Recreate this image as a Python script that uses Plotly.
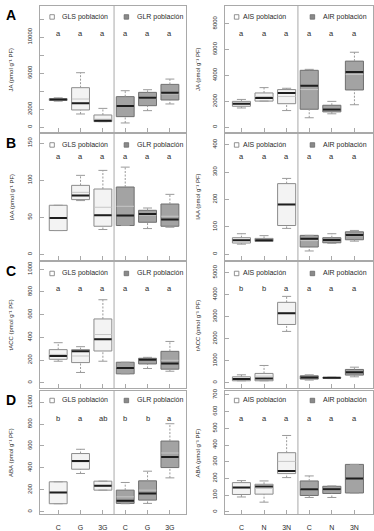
import plotly.graph_objects as go

W, H = 374, 531

POSITIONS = [1, 2, 3, 4, 5, 6]
X_LABELS_G = ["C", "G", "3G", "C", "G", "3G"]
X_LABELS_N = ["C", "N", "3N", "C", "N", "3N"]

# ---- A: JA (GLS / GLR) ----
JA_G_LOW = [2900, 1480, 630, 485, 1850, 2590]
JA_G_Q1 = [2980, 1925, 630, 1185, 2400, 3030]
JA_G_MED = [3080, 2660, 740, 2370, 3290, 3840]
JA_G_Q3 = [3180, 4395, 1370, 3400, 3875, 4760]
JA_G_HIGH = [3270, 6055, 2100, 4060, 4170, 5350]
JA_G_MEAN = [3100, 3140, 900, 2370, 3200, 3700]
JA_G_SIG = ["a", "a", "a", "a", "a", "a"]

# ---- A: JA (AIS / AIR) ----
JA_N_LOW = [1490, 2020, 1290, 735, 1040, 1740]
JA_N_Q1 = [1620, 2020, 1820, 1390, 1190, 2880]
JA_N_MED = [1820, 2250, 2650, 3210, 1365, 4270]
JA_N_Q3 = [2000, 2650, 2910, 4395, 1700, 5105]
JA_N_HIGH = [2150, 3060, 3010, 4470, 2000, 5790]
JA_N_MEAN = [1820, 2380, 2380, 2910, 1400, 4070]
JA_N_SIG = ["a", "a", "a", "a", "a", "a"]

# ---- B: IAA (GLS / GLR) ----
IAA_G_LOW = [32.2, 72.6, 33.6, 39, 34.9, 36.7]
IAA_G_Q1 = [32.2, 73.9, 38, 39, 43.4, 38]
IAA_G_MED = [49.2, 79.3, 52.8, 52.4, 54.6, 47]
IAA_G_Q3 = [66.3, 93.1, 88.2, 90.9, 59.5, 68]
IAA_G_HIGH = [66.3, 106.6, 113.3, 117.7, 62.6, 81]
IAA_G_MEAN = [49.2, 83.7, 63.6, 64.9, 53, 51.5]
IAA_G_SIG = ["a", "a", "a", "a", "a", "a"]

# ---- B: IAA (AIS / AIR) ----
IAA_N_LOW = [37, 47, 94.5, 12, 40, 48]
IAA_N_Q1 = [41, 47, 105, 26.5, 42, 53]
IAA_N_MED = [51, 51, 182, 56.7, 52, 70]
IAA_N_Q3 = [60.5, 58, 258, 69, 60.5, 82]
IAA_N_HIGH = [75, 68, 277, 69, 75, 87]
IAA_N_MEAN = [51, 53, 182, 50, 53, 68]
IAA_N_SIG = ["a", "a", "a", "a", "a", "a"]

# ---- C: tACC (GLS / GLR) ----
ACC_G_LOW = [190, 91, 190, 79, 126, 102]
ACC_G_Q1 = [207, 178, 280, 79, 166, 120]
ACC_G_MED = [236, 277, 384, 131, 204, 169]
ACC_G_Q3 = [292, 292, 562, 181, 216, 277]
ACC_G_HIGH = [353, 318, 731, 181, 224, 364]
ACC_G_MEAN = [250, 236, 425, 135, 200, 198]
ACC_G_SIG = ["a", "a", "a", "a", "a", "a"]

# ---- C: tACC (AIS / AIR) ----
ACC_N_LOW = [90, 90, 2330, 122, 190, 270]
ACC_N_Q1 = [90, 90, 2645, 167, 210, 347]
ACC_N_MED = [167, 198, 3155, 243, 225, 482]
ACC_N_Q3 = [270, 423, 3650, 315, 240, 604]
ACC_N_HIGH = [360, 784, 3920, 360, 250, 707]
ACC_N_MEAN = [180, 300, 3150, 240, 225, 480]
ACC_N_SIG = ["b", "b", "a", "a", "a", "a"]

# ---- D: ABA (GLS / GLR) ----
ABA_G_LOW = [73, 349, 197, 73, 76, 309]
ABA_G_Q1 = [73, 388, 197, 76, 106, 403]
ABA_G_MED = [176, 464, 236, 100, 167, 500]
ABA_G_Q3 = [273, 531, 279, 197, 282, 645]
ABA_G_HIGH = [273, 570, 279, 267, 370, 803]
ABA_G_MEAN = [176, 455, 236, 136, 197, 536]
ABA_G_SIG = ["b", "a", "ab", "b", "b", "a"]

# ---- D: ABA (AIS / AIR) ----
ABA_N_LOW = [89, 58, 205, 86, 86, 113]
ABA_N_Q1 = [104, 106, 229, 98, 110, 113]
ABA_N_MED = [145, 151, 245, 135, 135, 199]
ABA_N_Q3 = [175, 165, 354, 185, 153, 284]
ABA_N_HIGH = [187, 185, 457, 215, 155, 284]
ABA_N_MEAN = [145, 140, 302, 140, 130, 199]
ABA_N_SIG = ["a", "a", "a", "a", "a", "a"]

# y ticks (labelled) and tick spacing
JA_G_TICKS = [0, 2000, 6000, 10000]
JA_N_TICKS = [0, 2000, 4000, 6000, 8000]
IAA_G_TICKS = [0, 50, 100, 150]
IAA_N_TICKS = [0, 100, 200, 300, 400]
ACC_G_TICKS = [0, 200, 400, 600, 800, 1000]
ACC_N_TICKS = [0, 1000, 2000, 3000, 4000, 5000]
ABA_G_TICKS = [0, 200, 400, 600, 800, 1000]
ABA_N_TICKS = [0, 100, 200, 300, 400, 500, 600, 700]

LEG_G = ["GLS población", "GLR población"]
LEG_N = ["AIS población", "AIR población"]
PANEL_LETTERS = ["A", "B", "C", "D"]
HORMONES = ["JA", "IAA", "tACC", "ABA"]

FONT = "Liberation Sans, Arial, sans-serif"
TXT = "#2a2a2a"
FRAME = "#a9a9a9"
LIGHT_FILL, LIGHT_LINE = "#f3f3f3", "#8c8c8c"
DARK_FILL, DARK_LINE = "#a3a3a3", "#6f6f6f"
WHISK = "#9a9a9a"
MEAN_COL = "#c6c6c6"

# layout geometry (pixels)
COL_X = [(40, 186.7), (226, 373.5)]
ROW_Y = [(4, 130.7), (132, 259), (261, 387.5), (390, 514.3)]
X_RANGES = [[0.18, 6.73], [0.29, 6.8]]

def px_x(p):
    return p / W

def px_y(p):
    return 1 - p / H

panels = [
    (0, 0, JA_G_LOW, JA_G_Q1, JA_G_MED, JA_G_Q3, JA_G_HIGH, JA_G_MEAN, JA_G_SIG, [-540, 13450], JA_G_TICKS, 2000),
    (0, 1, JA_N_LOW, JA_N_Q1, JA_N_MED, JA_N_Q3, JA_N_HIGH, JA_N_MEAN, JA_N_SIG, [-380, 9360], JA_N_TICKS, 2000),
    (1, 0, IAA_G_LOW, IAA_G_Q1, IAA_G_MED, IAA_G_Q3, IAA_G_HIGH, IAA_G_MEAN, IAA_G_SIG, [-7.5, 163], IAA_G_TICKS, 50),
    (1, 1, IAA_N_LOW, IAA_N_Q1, IAA_N_MED, IAA_N_Q3, IAA_N_HIGH, IAA_N_MEAN, IAA_N_SIG, [-21, 441], IAA_N_TICKS, 100),
    (2, 0, ACC_G_LOW, ACC_G_Q1, ACC_G_MED, ACC_G_Q3, ACC_G_HIGH, ACC_G_MEAN, ACC_G_SIG, [-46, 1063], ACC_G_TICKS, 200),
    (2, 1, ACC_N_LOW, ACC_N_Q1, ACC_N_MED, ACC_N_Q3, ACC_N_HIGH, ACC_N_MEAN, ACC_N_SIG, [-240, 5480], ACC_N_TICKS, 1000),
    (3, 0, ABA_G_LOW, ABA_G_Q1, ABA_G_MED, ABA_G_Q3, ABA_G_HIGH, ABA_G_MEAN, ABA_G_SIG, [-24, 1106], ABA_G_TICKS, 200),
    (3, 1, ABA_N_LOW, ABA_N_Q1, ABA_N_MED, ABA_N_Q3, ABA_N_HIGH, ABA_N_MEAN, ABA_N_SIG, [-15, 726], ABA_N_TICKS, 100),
]

SIG_OFF = [27.7, 23, 27, 28.5]   # px below frame top
LEG_OFF = [11, 11.5, 11.5, 10]

fig = go.Figure()
annotations = []
shapes = []
layout = {}

for i, (r, c, low, q1, med, q3, high, mean, sig, yr, ticks, dtick) in enumerate(panels):
    n = i + 1
    xa = "x" if n == 1 else f"x{n}"
    ya = "y" if n == 1 else f"y{n}"
    xkey = "xaxis" if n == 1 else f"xaxis{n}"
    ykey = "yaxis" if n == 1 else f"yaxis{n}"
    x0, x1 = COL_X[c]
    ytop, ybot = ROW_Y[r]

    # whiskers (dashed)
    wx, wy = [], []
    for p, lo, a, b, hi in zip(POSITIONS, low, q1, q3, high):
        wx += [p, p, None, p, p, None]
        wy += [b, hi, None, lo, a, None]
    fig.add_trace(go.Scatter(x=wx, y=wy, mode="lines", xaxis=xa, yaxis=ya,
                             line=dict(color=WHISK, width=1, dash="2px,1.5px"),
                             hoverinfo="skip", showlegend=False))
    # caps
    cx, cy = [], []
    for p, lo, hi in zip(POSITIONS, low, high):
        cx += [p - 0.2, p + 0.2, None, p - 0.2, p + 0.2, None]
        cy += [hi, hi, None, lo, lo, None]
    fig.add_trace(go.Scatter(x=cx, y=cy, mode="lines", xaxis=xa, yaxis=ya,
                             line=dict(color=WHISK, width=1),
                             hoverinfo="skip", showlegend=False))
    # boxes
    for sl, fill, lc in [(slice(0, 3), LIGHT_FILL, LIGHT_LINE), (slice(3, 6), DARK_FILL, DARK_LINE)]:
        fig.add_trace(go.Box(x=POSITIONS[sl], q1=q1[sl], median=med[sl], q3=q3[sl],
                             lowerfence=q1[sl], upperfence=q3[sl],
                             width=0.8, whiskerwidth=0, boxpoints=False,
                             fillcolor=fill, line=dict(color=lc, width=1),
                             xaxis=xa, yaxis=ya, hoverinfo="skip", showlegend=False))
    # mean lines
    mx, my = [], []
    for p, m in zip(POSITIONS, mean):
        mx += [p - 0.39, p + 0.39, None]
        my += [m, m, None]
    fig.add_trace(go.Scatter(x=mx, y=my, mode="lines", xaxis=xa, yaxis=ya,
                             line=dict(color=MEAN_COL, width=1),
                             hoverinfo="skip", showlegend=False))
    # median lines
    dx, dy = [], []
    for p, m in zip(POSITIONS, med):
        dx += [p - 0.39, p + 0.39, None]
        dy += [m, m, None]
    fig.add_trace(go.Scatter(x=dx, y=dy, mode="lines", xaxis=xa, yaxis=ya,
                             line=dict(color="#1e1e1e", width=2),
                             hoverinfo="skip", showlegend=False))

    layout[xkey] = dict(
        domain=[px_x(x0), px_x(x1)], range=X_RANGES[c], anchor=ya,
        tickmode="array", tickvals=POSITIONS,
        ticktext=(X_LABELS_G if c == 0 else X_LABELS_N),
        showticklabels=(r == 3), ticks="inside", ticklen=4, tickcolor=FRAME,
        tickfont=dict(size=7, color=TXT, family=FONT), ticklabelstandoff=6,
        showline=True, mirror=True, linecolor=FRAME, linewidth=1,
        showgrid=False, zeroline=False, fixedrange=True)
    layout[ykey] = dict(
        domain=[px_y(ybot), px_y(ytop)], range=yr, anchor=xa,
        tickmode="array", tickvals=ticks, ticktext=[str(t) for t in ticks],
        tickangle=-90, ticks="inside", ticklen=4, tickcolor=FRAME,
        tickfont=dict(size=6, color=TXT, family=FONT), ticklabelstandoff=5,
        minor=dict(dtick=dtick, tick0=0, ticks="inside", ticklen=4, tickcolor=FRAME, showgrid=False),
        showline=True, mirror=True, linecolor=FRAME, linewidth=1,
        showgrid=False, zeroline=False, fixedrange=True)

    # separator
    shapes.append(dict(type="line", xref=xa, yref=f"{ya} domain", x0=3.5, x1=3.5, y0=0, y1=1,
                       line=dict(color=FRAME, width=1)))

    # significance letters
    for p, s in zip(POSITIONS, sig):
        annotations.append(dict(text=s, x=p, xref=xa, y=px_y(ytop + SIG_OFF[r]), yref="paper",
                                showarrow=False, xanchor="center", yanchor="middle",
                                font=dict(size=7.5, color=TXT, family=FONT)))
    # legend
    ly = ytop + LEG_OFF[r]
    labels = LEG_G if c == 0 else LEG_N
    if c == 0:
        sq = [(50, 54.5, 60), (124.5, 129, 135)]
    else:
        sq = [(235, 239.5, 241.5), (311, 315.5, 322)]
    for k, (sx0, sx1, tx) in enumerate(sq):
        shapes.append(dict(type="rect", xref="paper", yref="paper",
                           x0=px_x(sx0), x1=px_x(sx1), y0=px_y(ly + 2.25), y1=px_y(ly - 2.25),
                           fillcolor=("white" if k == 0 else "#8a8a8a"),
                           line=dict(color=("#777777" if k == 0 else "#6a6a6a"), width=0.8)))
        annotations.append(dict(text=labels[k], x=px_x(tx), y=px_y(ly), xref="paper", yref="paper",
                                showarrow=False, xanchor="left", yanchor="middle",
                                font=dict(size=7, color=TXT, family=FONT)))
    # y-axis title
    tx = 11.5 if c == 0 else 198.5
    annotations.append(dict(text=f"{HORMONES[r]} (pmol g⁻¹ PF)", textangle=-90,
                            x=px_x(tx), y=px_y((ytop + ybot) / 2), xref="paper", yref="paper",
                            showarrow=False, xanchor="center", yanchor="middle",
                            font=dict(size=6, color=TXT, family=FONT)))

# panel letters
for r, L in enumerate(PANEL_LETTERS):
    annotations.append(dict(text=f"<b>{L}</b>", x=px_x(11), y=px_y(ROW_Y[r][0] + 9.5),
                            xref="paper", yref="paper", showarrow=False,
                            xanchor="center", yanchor="middle",
                            font=dict(size=14, color="#000000", family=FONT)))

fig.update_layout(width=W, height=H, margin=dict(l=0, r=0, t=0, b=0),
                  paper_bgcolor="white", plot_bgcolor="white", showlegend=False,
                  boxmode="overlay", annotations=annotations, shapes=shapes, **layout)

fig.write_html("out.html", config={"displayModeBar": False},
               post_script="document.body.style.margin='0';")
